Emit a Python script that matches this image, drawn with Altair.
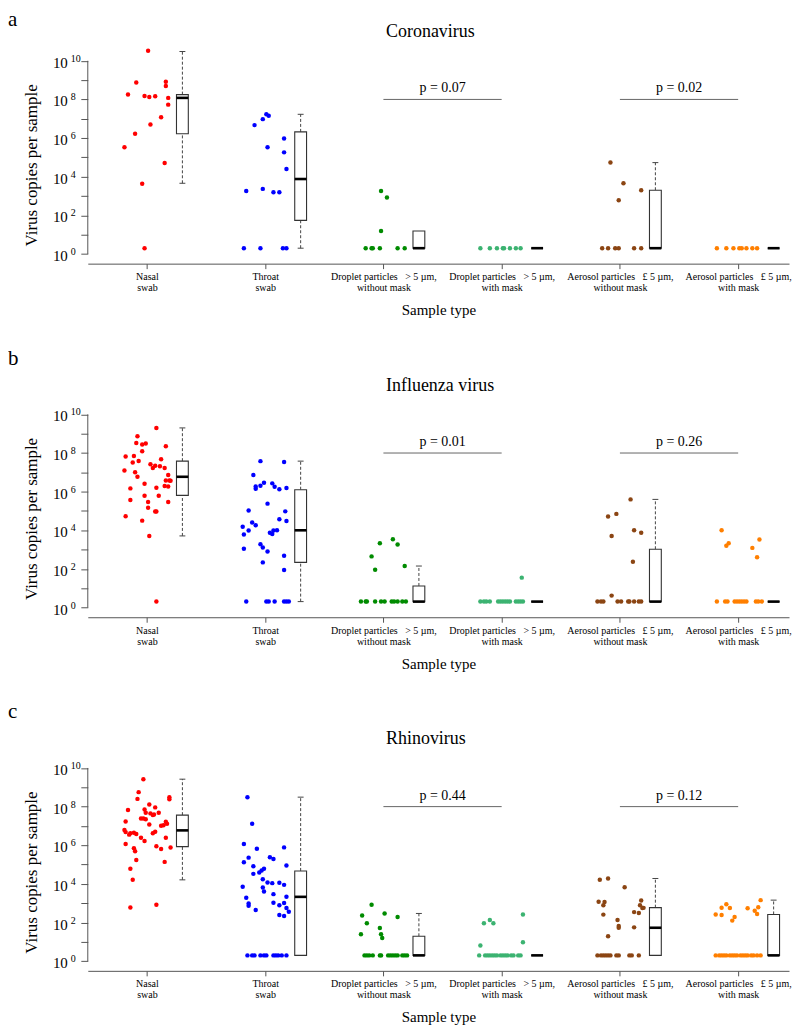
import json
import altair as alt
import pandas as pd

FONT = "Liberation Serif"

CATEGORIES = ["Nasal swab", "Throat swab", "Droplet without mask",
              "Droplet with mask", "Aerosol without mask", "Aerosol with mask"]
CAT_COLORS = ["#FF0000", "#0000FF", "#008B00", "#3CB371", "#8B4513", "#FF7F00"]
NB = "\u00a0\u00a0\u00a0"
X_LABEL_LINES = [
    ["Nasal", "swab"],
    ["Throat", "swab"],
    ["Droplet particles" + NB + "> 5 µm,", "without mask"],
    ["Droplet particles" + NB + "> 5 µm,", "with mask"],
    ["Aerosol particles" + NB + "£ 5 µm,", "without mask"],
    ["Aerosol particles" + NB + "£ 5 µm,", "with mask"],
]
PANEL_TITLES = ["Coronavirus", "Influenza virus", "Rhinovirus"]
PANEL_LETTERS = ["a", "b", "c"]
P_TEXTS = [["p = 0.07", "p = 0.02"], ["p = 0.01", "p = 0.26"], ["p = 0.44", "p = 0.12"]]
P_FROM = [3, 5]
P_TO = [4, 6]
P_LEVEL = [8, 8]
Y_TICKS = [0, 1, 2, 3, 4, 5, 6, 7, 8, 9, 10]
Y_LABEL_EXP = [0, 2, 4, 6, 8, 10]

# ---------------- data: log10(virus copies per sample) and jitter offsets ----------------
# Panel a: Coronavirus
cor_nasal_y = [10.52, 5.53, 8.25, 8.88, 6.22, 3.64, 0.30, 8.18, 8.13, 6.70, 8.16, 7.08, 8.92, 8.69, 4.71, 7.73, 8.08]
cor_nasal_dx = [0.01, -0.19, -0.16, -0.09, -0.10, -0.04, -0.02, -0.02, 0.02, 0.03, 0.07, 0.12, 0.16, 0.16, 0.15, 0.18, 0.18]
cor_throat_y = [0.30, 3.26, 6.67, 0.30, 3.37, 6.98, 7.23, 7.15, 5.53, 3.20, 3.20, 5.98, 5.26, 4.40, 0.30, 0.30]
cor_throat_dx = [-0.18, -0.16, -0.09, -0.04, -0.02, -0.02, 0.01, 0.03, 0.02, 0.07, 0.12, 0.16, 0.16, 0.18, 0.15, 0.18]
cor_dropno_y = [0.30, 0.30, 0.30, 0.30, 3.26, 2.92, 1.19, 0.30, 0.30]
cor_dropno_dx = [-0.15, -0.10, -0.09, -0.03, -0.02, 0.03, -0.02, 0.12, 0.18]
cor_dropmask_y = [0.30, 0.30, 0.30, 0.30, 0.30, 0.30, 0.30, 0.30]
cor_dropmask_dx = [-0.18, -0.10, -0.04, 0.01, 0.02, 0.07, 0.12, 0.16]
cor_aerno_y = [0.30, 0.30, 0.30, 0.30, 4.73, 3.66, 2.78, 3.30, 0.30, 0.30]
cor_aerno_dx = [-0.15, -0.10, -0.04, -0.01, -0.08, 0.03, -0.01, 0.18, 0.12, 0.18]
cor_aermask_y = [0.30, 0.30, 0.30, 0.30, 0.30, 0.30, 0.30, 0.30]
cor_aermask_dx = [-0.18, -0.10, -0.04, 0.01, 0.03, 0.07, 0.12, 0.16]
cor_q1 = [6.22, 1.74, 0.30, 0.30, 0.30, 0.30]
cor_med = [8.08, 3.88, 0.30, 0.30, 0.30, 0.30]
cor_q3 = [8.25, 6.32, 1.19, 0.30, 3.30, 0.30]
cor_lo = [3.66, 0.30, 0.30, 0.30, 0.30, 0.30]
cor_hi = [10.48, 7.23, 1.19, 0.30, 4.73, 0.30]

# Panel b: Influenza virus
flu_nasal_y = [9.30, 8.87, 7.82, 7.85, 8.52, 8.44, 8.49, 8.09, 8.35, 7.59, 7.51, 7.68, 7.42, 7.34, 7.22, 7.32,
               7.22, 7.10, 7.01, 6.77, 6.86, 6.58, 6.58, 6.56, 6.29, 6.27, 6.41, 6.17, 6.20, 5.79, 5.79, 5.57,
               5.46, 5.46, 5.17, 4.97, 4.97, 4.73, 4.50, 3.71, 0.31]
flu_nasal_dx = [0.08, -0.08, -0.18, -0.11, -0.09, -0.04, -0.01, -0.04, 0.16, -0.07, -0.12, 0.12, 0.03, 0.07, 0.05, 0.11,
                0.15, -0.19, -0.10, -0.08, 0.18, 0.16, 0.19, 0.20, 0.15, 0.18, -0.02, -0.14, 0.08, -0.02, 0.10, -0.14,
                0.01, 0.18, 0.01, 0.07, 0.08, -0.18, -0.04, 0.02, 0.08]
flu_throat_y = [7.58, 7.53, 6.86, 6.15, 6.27, 6.31, 6.46, 6.43, 6.25, 6.13, 6.19, 5.38, 5.03, 4.98, 4.57, 4.48,
                4.40, 4.26, 4.18, 3.99, 3.78, 3.87, 3.81, 3.99, 4.00, 3.28, 3.11, 2.90, 3.04, 2.68, 2.34, 1.94,
                0.31, 0.31, 0.31, 0.31, 0.31, 0.31, 0.31]
flu_throat_dx = [-0.04, 0.16, -0.10, -0.08, -0.08, -0.04, -0.01, 0.06, 0.08, 0.12, 0.18, 0.02, -0.14, 0.17, 0.12, 0.18,
                 -0.11, -0.08, -0.19, -0.14, -0.18, 0.04, 0.06, 0.07, 0.10, -0.04, -0.02, 0.02, -0.18, 0.16, -0.02, 0.16,
                 -0.16, 0.01, 0.03, 0.08, 0.16, 0.18, 0.20]
flu_dropno_y = [3.33, 3.54, 3.26, 2.65, 1.96, 2.15, 0.31, 0.31, 0.31, 0.31, 0.31, 0.31, 0.31, 0.31, 0.31, 0.31, 0.31]
flu_dropno_dx = [-0.03, 0.08, 0.12, -0.10, -0.07, 0.18, -0.19, -0.15, -0.14, -0.07, -0.02, 0.01, 0.07, 0.09, 0.12, 0.16, 0.19]
flu_dropmask_y = [1.55, 0.31, 0.31, 0.31, 0.31, 0.31, 0.31, 0.31, 0.31, 0.31, 0.31, 0.31, 0.31, 0.31, 0.31]
flu_dropmask_dx = [0.17, -0.18, -0.15, -0.13, -0.10, -0.03, -0.01, 0.01, 0.03, 0.05, 0.07, 0.12, 0.14, 0.16, 0.18]
flu_aerno_y = [5.60, 4.71, 4.85, 3.71, 4.00, 3.87, 2.37, 0.62, 0.31, 0.31, 0.31, 0.31, 0.31, 0.31, 0.31, 0.31, 0.31, 0.31]
flu_aerno_dx = [0.09, -0.10, -0.03, -0.07, 0.12, 0.18, 0.11, -0.07, -0.19, -0.16, -0.14, -0.02, 0.01, 0.07, 0.08, 0.12, 0.16, 0.18]
flu_aermask_y = [4.00, 3.33, 3.20, 3.52, 3.09, 2.61, 0.31, 0.31, 0.31, 0.31, 0.31, 0.31, 0.31, 0.31, 0.31, 0.31, 0.31, 0.31]
flu_aermask_dx = [-0.14, -0.08, -0.10, 0.18, 0.12, 0.16, -0.18, -0.11, -0.09, -0.03, -0.01, 0.01, 0.03, 0.05, 0.07, 0.15, 0.17, 0.20]
flu_q1 = [5.81, 2.34, 0.31, 0.31, 0.31, 0.31]
flu_med = [6.77, 4.00, 0.31, 0.31, 0.31, 0.31]
flu_q3 = [7.58, 6.10, 1.12, 0.31, 3.02, 0.31]
flu_lo = [3.71, 0.31, 0.31, 0.31, 0.31, 0.31]
flu_hi = [9.30, 7.58, 2.15, 0.31, 5.60, 0.31]

# Panel c: Rhinovirus
rhi_nasal_y = [9.42, 8.75, 8.40, 8.49, 8.38, 7.82, 8.11, 7.96, 7.85, 7.68, 7.65, 7.56, 7.59, 7.68, 7.39, 7.39,
               7.35, 7.23, 7.08, 7.22, 7.11, 7.01, 7.04, 6.79, 6.68, 6.55, 6.62, 6.65, 6.58, 6.70, 6.62, 6.39,
               6.39, 6.22, 6.07, 5.95, 5.81, 5.88, 5.84, 5.69, 5.24, 5.14, 4.78, 4.21, 2.78, 2.92]
rhi_nasal_dx = [-0.03, -0.07, -0.08, 0.19, 0.19, -0.16, 0.02, 0.07, -0.02, -0.01, 0.03, 0.05, 0.06, 0.10, -0.05, -0.03,
                -0.01, -0.18, 0.02, 0.16, 0.17, 0.12, 0.14, -0.19, -0.18, -0.15, -0.14, -0.11, -0.09, 0.07, 0.05, -0.05,
                0.16, -0.02, -0.18, 0.08, 0.12, 0.20, -0.11, -0.10, -0.09, 0.15, -0.14, -0.12, -0.14, 0.08]
rhi_throat_y = [8.49, 7.11, 6.07, 5.82, 5.36, 5.38, 5.29, 5.89, 5.12, 4.91, 4.95, 4.78, 4.69, 4.59, 4.52, 4.24,
                4.07, 4.04, 4.06, 3.95, 3.85, 3.81, 3.61, 3.47, 3.33, 3.28, 2.99, 2.87, 3.02, 3.01, 2.90, 2.65,
                2.75, 2.56, 2.39, 2.34, 0.30, 0.30, 0.30, 0.30, 0.30, 0.30, 0.30, 0.30, 0.30, 0.30, 0.30]
rhi_throat_dx = [-0.15, -0.11, -0.18, -0.07, -0.14, 0.04, 0.07, 0.16, -0.18, -0.10, 0.18, -0.01, -0.03, -0.05, -0.10, -0.02,
                 0.02, 0.06, 0.12, 0.16, -0.19, -0.02, -0.01, 0.07, 0.18, -0.16, -0.14, -0.14, 0.07, 0.16, 0.12, -0.08,
                 0.18, 0.20, 0.12, 0.16, -0.15, -0.11, -0.09, -0.04, -0.01, 0.01, 0.07, 0.09, 0.11, 0.14, 0.18]
rhi_dropno_y = [2.92, 2.36, 2.47, 2.29, 1.96, 1.72, 1.39, 1.39, 1.20, 0.30, 0.30, 0.30, 0.30, 0.30, 0.30, 0.30,
                0.30, 0.30, 0.30, 0.30, 0.30, 0.30, 0.30]
rhi_dropno_dx = [-0.10, -0.18, 0.01, 0.12, -0.14, -0.03, -0.19, -0.02, -0.01, -0.16, -0.14, -0.12, -0.09, -0.03, -0.02, 0.04,
                 0.06, 0.08, 0.10, 0.12, 0.16, 0.18, 0.20]
rhi_dropmask_y = [1.96, 2.13, 1.96, 2.42, 0.98, 0.81, 0.30, 0.30, 0.30, 0.30, 0.30, 0.30, 0.30, 0.30, 0.30, 0.30,
                  0.30, 0.30, 0.30, 0.30, 0.30]
rhi_dropmask_dx = [-0.15, -0.10, -0.07, 0.18, 0.18, -0.18, -0.19, -0.14, -0.12, -0.10, -0.08, -0.06, -0.04, -0.01, 0.01, 0.03,
                   0.05, 0.08, 0.10, 0.14, 0.16]
rhi_aerno_y = [4.21, 4.28, 3.83, 3.08, 3.06, 2.89, 3.14, 2.90, 2.75, 2.76, 2.54, 2.49, 2.41, 2.13, 1.82, 1.73,
               1.75, 1.29, 0.30, 0.30, 0.30, 0.30, 0.30, 0.30, 0.30, 0.30, 0.30, 0.30, 0.30]
rhi_aerno_dx = [-0.17, -0.10, 0.04, -0.18, -0.13, -0.14, 0.18, 0.17, 0.19, 0.20, 0.12, 0.16, -0.14, -0.02, -0.01, -0.01,
                0.12, -0.10, -0.19, -0.16, -0.14, -0.12, -0.10, -0.08, -0.03, -0.01, 0.08, 0.10, 0.16]
rhi_aermask_y = [2.42, 2.39, 2.77, 2.95, 2.75, 2.10, 2.29, 2.74, 2.61, 2.44, 2.79, 3.16, 0.30, 0.30, 0.30, 0.30,
                 0.30, 0.30, 0.30, 0.30, 0.30, 0.30, 0.30, 0.30, 0.30, 0.30, 0.30, 0.30, 0.30]
rhi_aermask_dx = [-0.19, -0.14, -0.14, -0.10, -0.07, -0.05, -0.03, 0.08, 0.14, 0.16, 0.17, 0.19, -0.19, -0.16, -0.14, -0.12,
                  -0.10, -0.07, -0.05, -0.03, -0.01, 0.02, 0.04, 0.06, 0.08, 0.11, 0.13, 0.16, 0.19]
rhi_q1 = [5.93, 0.30, 0.30, 0.30, 0.30, 0.30]
rhi_med = [6.77, 3.33, 0.30, 0.30, 1.73, 0.30]
rhi_q3 = [7.56, 4.67, 1.29, 0.30, 2.77, 2.42]
rhi_lo = [4.21, 0.30, 0.30, 0.30, 0.30, 0.30]
rhi_hi = [9.42, 8.49, 2.47, 0.30, 4.28, 3.16]

# ---------------- styling ----------------
PLOT_W = 703
PLOT_H = 215
BOX_SHIFT = 0.30
BOX_HALF = 0.05
CAP_HALF = 0.025
AXIS_GRAY = "#555555"

XS = alt.Scale(domain=[0.5, 6.43], nice=False, zero=False)
YS = alt.Scale(domain=[-0.5, 10.6], nice=False, zero=False)
LABEL_EXPR = json.dumps(X_LABEL_LINES, ensure_ascii=False) + "[datum.value - 1]"

X_AXIS = alt.Axis(values=[1, 2, 3, 4, 5, 6], title="Sample type", labelExpr=LABEL_EXPR,
                  labelFont=FONT, labelFontSize=10, labelColor="black", labelLineHeight=11,
                  labelPadding=3, labelAngle=0, labelOverlap=False, labelFlush=False,
                  tickSize=5, tickColor=AXIS_GRAY, domainColor=AXIS_GRAY, grid=False,
                  titleFont=FONT, titleFontSize=15, titleFontWeight="normal", titleColor="black",
                  titleY=51, titleBaseline="alphabetic")
Y_AXIS = alt.Axis(values=Y_TICKS, labels=False, domain=False, tickSize=7, tickColor=AXIS_GRAY,
                  grid=False, title="Virus copies per sample", titleFont=FONT, titleFontSize=17,
                  titleFontWeight="normal", titleColor="black", titleX=-47, titleY=116,
                  titleBaseline="bottom", titleAngle=-90)


def X(f):
    return alt.X(f, type="quantitative", scale=XS, axis=X_AXIS)


def Y(f):
    return alt.Y(f, type="quantitative", scale=YS, axis=Y_AXIS)


def panel(k, ys, dxs, q1, med, q3, lo, hi, letter_y):
    rows = []
    for ci, (yl, dl) in enumerate(zip(ys, dxs)):
        for v, d in zip(yl, dl):
            rows.append({"cat": CATEGORIES[ci], "xpos": ci + 1 + d, "logv": v})
    pts = pd.DataFrame(rows)

    bx = pd.DataFrame({"cat": CATEGORIES, "c": [i + 1 + BOX_SHIFT for i in range(6)],
                       "q1": q1, "med": med, "q3": q3, "lo": lo, "hi": hi})
    bx["l"] = bx["c"] - BOX_HALF
    bx["r"] = bx["c"] + BOX_HALF
    bx["cl"] = bx["c"] - CAP_HALF
    bx["cr"] = bx["c"] + CAP_HALF
    up = bx[bx["hi"] > bx["q3"]]
    dn = bx[bx["lo"] < bx["q1"]]

    axis_df = pd.DataFrame({"y0": [Y_TICKS[0]], "y1": [Y_TICKS[-1]]})
    lab_df = pd.DataFrame({"e": Y_LABEL_EXP, "base": ["10"] * len(Y_LABEL_EXP),
                           "sup": [str(e) for e in Y_LABEL_EXP]})
    p_df = pd.DataFrame({"x1": P_FROM, "x2": P_TO, "y": P_LEVEL, "t": P_TEXTS[k]})
    p_df["xm"] = (p_df["x1"] + p_df["x2"]) / 2
    title_df = pd.DataFrame({"t": [PANEL_TITLES[k]]})
    letter_df = pd.DataFrame({"t": [PANEL_LETTERS[k]]})

    yline = alt.Chart(axis_df).mark_rule(color=AXIS_GRAY, strokeWidth=1).encode(
        x=alt.value(0), y=Y("y0"), y2=alt.Y2("y1"))
    ylab = alt.Chart(lab_df).mark_text(align="right", baseline="alphabetic", dy=7,
                                       font=FONT, fontSize=15, color="black").encode(
        x=alt.value(-20), y=Y("e"), text="base:N")
    ysup = alt.Chart(lab_df).mark_text(align="left", baseline="alphabetic", dy=1,
                                       font=FONT, fontSize=10, color="black").encode(
        x=alt.value(-17), y=Y("e"), text="sup:N")
    points = alt.Chart(pts).mark_circle(size=20, opacity=1).encode(
        x=X("xpos"), y=Y("logv"),
        color=alt.Color("cat:N", scale=alt.Scale(domain=CATEGORIES, range=CAT_COLORS), legend=None))
    wh_up = alt.Chart(up).mark_rule(color="#444444", strokeDash=[3, 2], strokeWidth=1).encode(
        x=X("c"), y=Y("q3"), y2=alt.Y2("hi"))
    wh_dn = alt.Chart(dn).mark_rule(color="#444444", strokeDash=[3, 2], strokeWidth=1).encode(
        x=X("c"), y=Y("lo"), y2=alt.Y2("q1"))
    cap_up = alt.Chart(up).mark_rule(color="#444444", strokeWidth=1).encode(
        x=X("cl"), x2=alt.X2("cr"), y=Y("hi"))
    cap_dn = alt.Chart(dn).mark_rule(color="#444444", strokeWidth=1).encode(
        x=X("cl"), x2=alt.X2("cr"), y=Y("lo"))
    boxes = alt.Chart(bx).mark_rect(fill="white", stroke="#333333", strokeWidth=1.1).encode(
        x=X("l"), x2=alt.X2("r"), y=Y("q1"), y2=alt.Y2("q3"))
    medians = alt.Chart(bx).mark_rule(color="black", strokeWidth=2.6).encode(
        x=X("l"), x2=alt.X2("r"), y=Y("med"))
    plines = alt.Chart(p_df).mark_rule(color="#666666", strokeWidth=1).encode(
        x=X("x1"), x2=alt.X2("x2"), y=Y("y"))
    ptext = alt.Chart(p_df).mark_text(baseline="alphabetic", dy=-7, font=FONT, fontSize=14,
                                      color="black").encode(x=X("xm"), y=Y("y"), text="t:N")
    title = alt.Chart(title_df).mark_text(align="left", baseline="alphabetic", font=FONT,
                                          fontSize=18, color="black").encode(
        x=alt.value(299), y=alt.value(-12), text="t:N")
    letter = alt.Chart(letter_df).mark_text(align="left", baseline="top", font=FONT,
                                            fontSize=21, color="black").encode(
        x=alt.value(-80), y=alt.value(letter_y), text="t:N")

    return alt.layer(yline, ylab, ysup, points, wh_up, wh_dn, cap_up, cap_dn, boxes, medians,
                     plines, ptext, title, letter).properties(width=PLOT_W, height=PLOT_H)


pa = panel(0,
           [cor_nasal_y, cor_throat_y, cor_dropno_y, cor_dropmask_y, cor_aerno_y, cor_aermask_y],
           [cor_nasal_dx, cor_throat_dx, cor_dropno_dx, cor_dropmask_dx, cor_aerno_dx, cor_aermask_dx],
           cor_q1, cor_med, cor_q3, cor_lo, cor_hi, -40)
pb = panel(1,
           [flu_nasal_y, flu_throat_y, flu_dropno_y, flu_dropmask_y, flu_aerno_y, flu_aermask_y],
           [flu_nasal_dx, flu_throat_dx, flu_dropno_dx, flu_dropmask_dx, flu_aerno_dx, flu_aermask_dx],
           flu_q1, flu_med, flu_q3, flu_lo, flu_hi, -55)
pc = panel(2,
           [rhi_nasal_y, rhi_throat_y, rhi_dropno_y, rhi_dropmask_y, rhi_aerno_y, rhi_aermask_y],
           [rhi_nasal_dx, rhi_throat_dx, rhi_dropno_dx, rhi_dropmask_dx, rhi_aerno_dx, rhi_aermask_dx],
           rhi_q1, rhi_med, rhi_q3, rhi_lo, rhi_hi, -55)

chart = alt.vconcat(pa, pb, pc, spacing=139.5, bounds="flush").properties(
    padding={"left": 0, "top": 0, "right": 0, "bottom": 0},
    background="white",
).configure_view(stroke=None)

chart.save("out.html", embed_options={"renderer": "svg", "actions": False})
